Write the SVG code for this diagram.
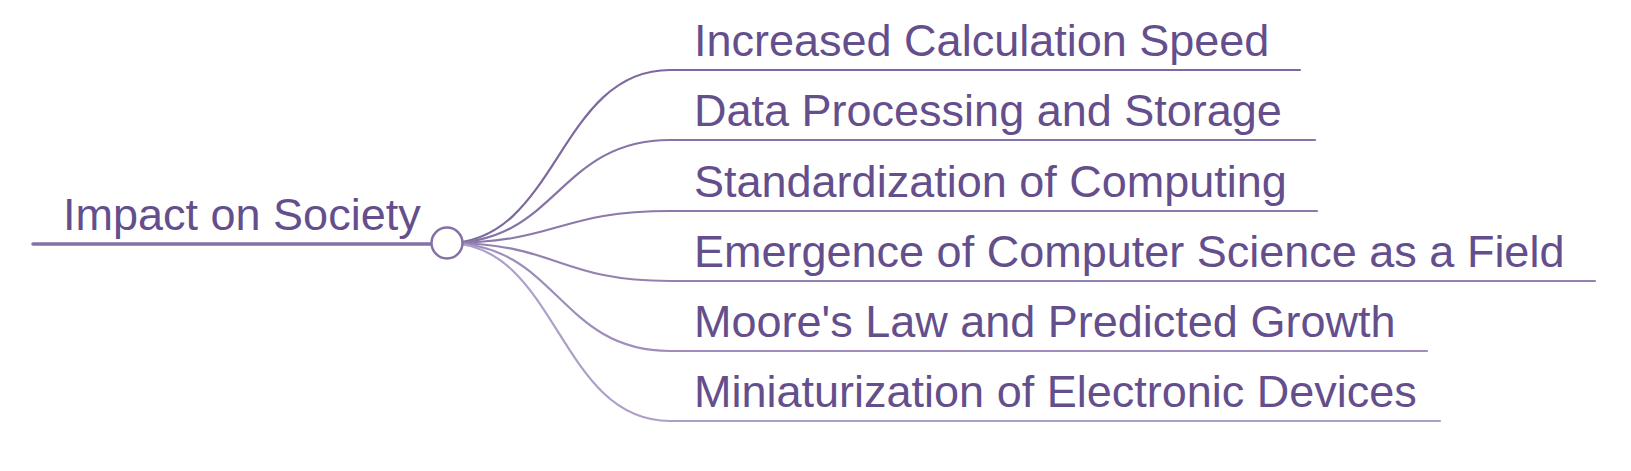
<svg xmlns="http://www.w3.org/2000/svg" width="1631" height="471" viewBox="0 0 1631 471">
<style>
.t{font-family:"Liberation Sans",Arial,sans-serif;font-size:45px;fill:#644f8c}
.l{fill:none;stroke-width:2.2;stroke-linecap:round}
</style>
<rect width="1631" height="471" fill="#ffffff"/>
<g id="connectors">
<path class="l" d="M447 243 C558 243,558 70,670 70 H1300" stroke="#7d68a0"/>
<path class="l" d="M447 243 C558 243,558 140,670 140 H1315" stroke="#8673a8"/>
<path class="l" d="M447 243 C558 243,558 211,670 211 H1317" stroke="#8c79ac"/>
<path class="l" d="M447 243 C558 243,558 281,670 281 H1595" stroke="#9481b2"/>
<path class="l" d="M447 243 C558 243,558 351,670 351 H1427" stroke="#9f8ebc"/>
<path class="l" d="M447 243 C558 243,558 421,670 421 H1440" stroke="#ae9fc8"/>
</g>
<g id="root">
<line x1="33" y1="244" x2="432" y2="244" stroke="#8571a6" stroke-width="3.5" stroke-linecap="round"/>
<circle cx="447" cy="243" r="15.5" fill="#ffffff" stroke="#8571a6" stroke-width="2.5"/>
<text class="t" x="63" y="230">Impact on Society</text>
</g>
<g id="n1"><text class="t" x="694" y="56">Increased Calculation Speed</text></g>
<g id="n2"><text class="t" x="694" y="126">Data Processing and Storage</text></g>
<g id="n3"><text class="t" x="694" y="197">Standardization of Computing</text></g>
<g id="n4"><text class="t" x="694" y="267">Emergence of Computer Science as a Field</text></g>
<g id="n5"><text class="t" x="694" y="337">Moore's Law and Predicted Growth</text></g>
<g id="n6"><text class="t" x="694" y="407">Miniaturization of Electronic Devices</text></g>
</svg>
